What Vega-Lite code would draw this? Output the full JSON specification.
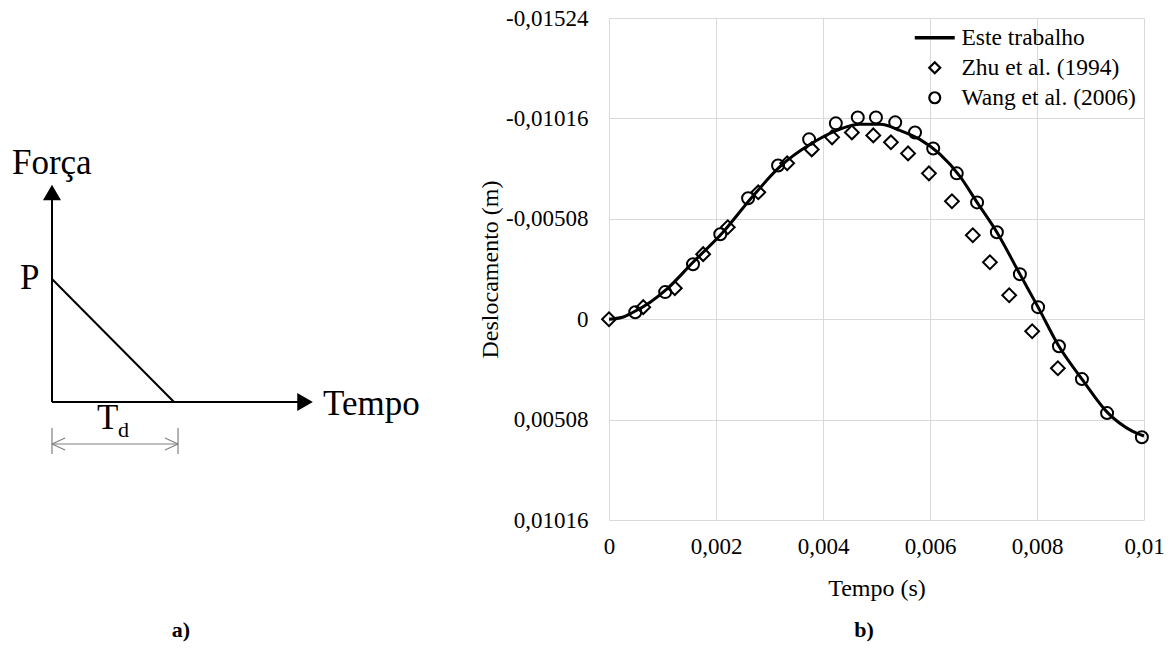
{
  "$schema": "https://vega.github.io/schema/vega-lite/v6.json",
  "background": "white",
  "padding": {"left": 0, "top": 7, "right": 0, "bottom": 0},
  "bounds": "flush",
  "spacing": 169,
  "resolve": {"scale": {"shape": "independent"}, "legend": {"shape": "independent"}},
  "config": {
    "view": {"stroke": null},
    "font": "Liberation Serif, Times New Roman, DejaVu Serif, serif",
    "text": {"font": "Liberation Serif, Times New Roman, DejaVu Serif, serif"}
  },
  "datasets": {
    "diagramSolid": [
      {"x": 0, "y": 0, "x2": 0, "y2": 1.65},
      {"x": 0, "y": 0, "x2": 2.02, "y2": 0},
      {"x": 0, "y": 1, "x2": 1, "y2": 0}
    ],
    "diagramDim": [
      {"x": 0, "y": -0.341, "x2": 1.033, "y2": -0.341},
      {"x": 0, "y": -0.211, "x2": 0, "y2": -0.423},
      {"x": 1.033, "y": -0.211, "x2": 1.033, "y2": -0.423},
      {"x": 0, "y": -0.341, "x2": 0.107, "y2": -0.292},
      {"x": 0, "y": -0.341, "x2": 0.107, "y2": -0.39},
      {"x": 1.033, "y": -0.341, "x2": 0.926, "y2": -0.292},
      {"x": 1.033, "y": -0.341, "x2": 0.926, "y2": -0.39}
    ],
    "arrowUp": [{"x": 0, "y": 1.703}],
    "arrowRight": [{"x": 2.074, "y": 0}],
    "bigText": [
      {"x": -0.328, "y": 1.854, "label": "Força"},
      {"x": -0.262, "y": 0.919, "label": "P"},
      {"x": 2.221, "y": -0.106, "label": "Tempo"},
      {"x": 0.369, "y": -0.22, "label": "T"}
    ],
    "subText": [
      {"x": 0.541, "y": -0.285, "label": "d"}
    ],
    "panelA": [
      {"x": 1.057, "y": -1.911, "label": "a)"}
    ],
    "trabalho": [
      {"t": 0, "d": 0},
      {"t": 0.00025, "d": -0.0001},
      {"t": 0.00045, "d": -0.00035},
      {"t": 0.00077, "d": -0.00086},
      {"t": 0.00108, "d": -0.00152},
      {"t": 0.00157, "d": -0.00288},
      {"t": 0.00213, "d": -0.0044},
      {"t": 0.00264, "d": -0.00607},
      {"t": 0.0032, "d": -0.00773},
      {"t": 0.00376, "d": -0.00885},
      {"t": 0.00432, "d": -0.00962},
      {"t": 0.00469, "d": -0.00986},
      {"t": 0.00507, "d": -0.00986},
      {"t": 0.00544, "d": -0.00955},
      {"t": 0.00581, "d": -0.0091},
      {"t": 0.00619, "d": -0.00834},
      {"t": 0.00656, "d": -0.00723},
      {"t": 0.00688, "d": -0.00591},
      {"t": 0.00725, "d": -0.0044},
      {"t": 0.00768, "d": -0.00228},
      {"t": 0.00802, "d": -0.00061},
      {"t": 0.00841, "d": 0.00137},
      {"t": 0.00884, "d": 0.00303},
      {"t": 0.00931, "d": 0.0047},
      {"t": 0.00978, "d": 0.00566},
      {"t": 0.01, "d": 0.00591}
    ],
    "zhu": [
      {"t": 0, "d": 0, "serie": "Zhu et al. (1994)"},
      {"t": 0.00064, "d": -0.00061, "serie": "Zhu et al. (1994)"},
      {"t": 0.00123, "d": -0.00157, "serie": "Zhu et al. (1994)"},
      {"t": 0.00176, "d": -0.00329, "serie": "Zhu et al. (1994)"},
      {"t": 0.00222, "d": -0.00465, "serie": "Zhu et al. (1994)"},
      {"t": 0.00279, "d": -0.00642, "serie": "Zhu et al. (1994)"},
      {"t": 0.00333, "d": -0.00789, "serie": "Zhu et al. (1994)"},
      {"t": 0.00379, "d": -0.00859, "serie": "Zhu et al. (1994)"},
      {"t": 0.00417, "d": -0.0092, "serie": "Zhu et al. (1994)"},
      {"t": 0.00454, "d": -0.00945, "serie": "Zhu et al. (1994)"},
      {"t": 0.00494, "d": -0.0093, "serie": "Zhu et al. (1994)"},
      {"t": 0.00527, "d": -0.00895, "serie": "Zhu et al. (1994)"},
      {"t": 0.00559, "d": -0.00839, "serie": "Zhu et al. (1994)"},
      {"t": 0.00598, "d": -0.00738, "serie": "Zhu et al. (1994)"},
      {"t": 0.00641, "d": -0.00597, "serie": "Zhu et al. (1994)"},
      {"t": 0.0068, "d": -0.00425, "serie": "Zhu et al. (1994)"},
      {"t": 0.00712, "d": -0.00288, "serie": "Zhu et al. (1994)"},
      {"t": 0.00748, "d": -0.00121, "serie": "Zhu et al. (1994)"},
      {"t": 0.00791, "d": 0.00061, "serie": "Zhu et al. (1994)"},
      {"t": 0.00839, "d": 0.00248, "serie": "Zhu et al. (1994)"}
    ],
    "wang": [
      {"t": 0.00049, "d": -0.00035, "serie": "Wang et al. (2006)"},
      {"t": 0.00105, "d": -0.00137, "serie": "Wang et al. (2006)"},
      {"t": 0.00157, "d": -0.00278, "serie": "Wang et al. (2006)"},
      {"t": 0.00208, "d": -0.0043, "serie": "Wang et al. (2006)"},
      {"t": 0.0026, "d": -0.00612, "serie": "Wang et al. (2006)"},
      {"t": 0.00316, "d": -0.00778, "serie": "Wang et al. (2006)"},
      {"t": 0.00374, "d": -0.0091, "serie": "Wang et al. (2006)"},
      {"t": 0.00424, "d": -0.00991, "serie": "Wang et al. (2006)"},
      {"t": 0.00465, "d": -0.01021, "serie": "Wang et al. (2006)"},
      {"t": 0.00499, "d": -0.01021, "serie": "Wang et al. (2006)"},
      {"t": 0.00535, "d": -0.00996, "serie": "Wang et al. (2006)"},
      {"t": 0.00572, "d": -0.00945, "serie": "Wang et al. (2006)"},
      {"t": 0.00606, "d": -0.00864, "serie": "Wang et al. (2006)"},
      {"t": 0.0065, "d": -0.00738, "serie": "Wang et al. (2006)"},
      {"t": 0.00688, "d": -0.00591, "serie": "Wang et al. (2006)"},
      {"t": 0.00725, "d": -0.0044, "serie": "Wang et al. (2006)"},
      {"t": 0.00768, "d": -0.00228, "serie": "Wang et al. (2006)"},
      {"t": 0.00802, "d": -0.00061, "serie": "Wang et al. (2006)"},
      {"t": 0.00841, "d": 0.00137, "serie": "Wang et al. (2006)"},
      {"t": 0.00884, "d": 0.00303, "serie": "Wang et al. (2006)"},
      {"t": 0.00931, "d": 0.00475, "serie": "Wang et al. (2006)"},
      {"t": 0.00996, "d": 0.00597, "serie": "Wang et al. (2006)"}
    ],
    "panelB": [
      {"t": 0.004766, "d": 0.016074, "label": "b)"}
    ]
  },
  "hconcat": [
    {
      "width": 440,
      "height": 502,
      "layer": [
        {
          "data": {"name": "diagramSolid"},
          "mark": {"type": "rule", "color": "black", "strokeWidth": 2},
          "encoding": {
            "x": {"field": "x", "type": "quantitative", "scale": {"domain": [-0.426, 3.18], "nice": false, "zero": false}, "axis": null},
            "y": {"field": "y", "type": "quantitative", "scale": {"domain": [-0.959, 3.122], "nice": false, "zero": false}, "axis": null},
            "x2": {"field": "x2"},
            "y2": {"field": "y2"}
          }
        },
        {
          "data": {"name": "diagramDim"},
          "mark": {"type": "rule", "color": "#808080", "strokeWidth": 1.2},
          "encoding": {
            "x": {"field": "x", "type": "quantitative", "scale": {"domain": [-0.426, 3.18], "nice": false, "zero": false}, "axis": null},
            "y": {"field": "y", "type": "quantitative", "scale": {"domain": [-0.959, 3.122], "nice": false, "zero": false}, "axis": null},
            "x2": {"field": "x2"},
            "y2": {"field": "y2"}
          }
        },
        {
          "data": {"name": "arrowUp"},
          "mark": {"type": "point", "filled": true, "color": "black", "size": 324, "opacity": 1, "shape": "triangle-up"},
          "encoding": {
            "x": {"field": "x", "type": "quantitative", "scale": {"domain": [-0.426, 3.18], "nice": false, "zero": false}, "axis": null},
            "y": {"field": "y", "type": "quantitative", "scale": {"domain": [-0.959, 3.122], "nice": false, "zero": false}, "axis": null}
          }
        },
        {
          "data": {"name": "arrowRight"},
          "mark": {"type": "point", "filled": true, "color": "black", "size": 324, "opacity": 1, "shape": "triangle-right"},
          "encoding": {
            "x": {"field": "x", "type": "quantitative", "scale": {"domain": [-0.426, 3.18], "nice": false, "zero": false}, "axis": null},
            "y": {"field": "y", "type": "quantitative", "scale": {"domain": [-0.959, 3.122], "nice": false, "zero": false}, "axis": null}
          }
        },
        {
          "data": {"name": "bigText"},
          "mark": {"type": "text", "fontSize": 35, "align": "left", "baseline": "alphabetic", "color": "black"},
          "encoding": {
            "x": {"field": "x", "type": "quantitative", "scale": {"domain": [-0.426, 3.18], "nice": false, "zero": false}, "axis": null},
            "y": {"field": "y", "type": "quantitative", "scale": {"domain": [-0.959, 3.122], "nice": false, "zero": false}, "axis": null},
            "text": {"field": "label"}
          }
        },
        {
          "data": {"name": "subText"},
          "mark": {"type": "text", "fontSize": 22, "align": "left", "baseline": "alphabetic", "color": "black"},
          "encoding": {
            "x": {"field": "x", "type": "quantitative", "scale": {"domain": [-0.426, 3.18], "nice": false, "zero": false}, "axis": null},
            "y": {"field": "y", "type": "quantitative", "scale": {"domain": [-0.959, 3.122], "nice": false, "zero": false}, "axis": null},
            "text": {"field": "label"}
          }
        },
        {
          "data": {"name": "panelA"},
          "mark": {"type": "text", "fontSize": 22, "fontWeight": "bold", "align": "center", "baseline": "alphabetic", "color": "black"},
          "encoding": {
            "x": {"field": "x", "type": "quantitative", "scale": {"domain": [-0.426, 3.18], "nice": false, "zero": false}, "axis": null},
            "y": {"field": "y", "type": "quantitative", "scale": {"domain": [-0.959, 3.122], "nice": false, "zero": false}, "axis": null},
            "text": {"field": "label"}
          }
        }
      ]
    },
    {
      "width": 535,
      "height": 502,
      "encoding": {
        "x": {
          "field": "t", "type": "quantitative",
          "scale": {"domain": [0, 0.01], "nice": false, "zero": false},
          "axis": {
            "title": "Tempo (s)",
            "values": [0, 0.002, 0.004, 0.006, 0.008, 0.01],
            "labelExpr": "datum.value == 0 ? '0' : replace('' + datum.value, '.', ',')",
            "grid": true, "gridColor": "#d9d9d9", "gridWidth": 1,
            "ticks": false, "domain": false,
            "labelFontSize": 23, "labelColor": "black",
            "labelPadding": 15, "labelFlush": false, "labelOverlap": false,
            "titleFontSize": 24, "titleFontWeight": "normal", "titleColor": "black",
            "titlePadding": 18
          }
        },
        "y": {
          "field": "d", "type": "quantitative",
          "scale": {"domain": [-0.01524, 0.01016], "reverse": true, "nice": false, "zero": false},
          "axis": {
            "title": "Deslocamento (m)",
            "values": [-0.01524, -0.01016, -0.00508, 0, 0.00508, 0.01016],
            "labelExpr": "datum.value == 0 ? '0' : replace('' + datum.value, '.', ',')",
            "grid": true, "gridColor": "#d9d9d9", "gridWidth": 1,
            "ticks": false, "domain": false,
            "labelFontSize": 23, "labelColor": "black",
            "labelPadding": 21, "labelFlush": false, "labelOverlap": false,
            "titleFontSize": 24, "titleFontWeight": "normal", "titleColor": "black",
            "titlePadding": 3
          }
        }
      },
      "layer": [
        {
          "data": {"name": "trabalho"},
          "mark": {"type": "line", "color": "black", "strokeWidth": 3, "interpolate": "monotone"},
          "encoding": {}
        },
        {
          "data": {"name": "zhu"},
          "mark": {"type": "point", "filled": false, "color": "black", "strokeWidth": 2, "size": 190, "opacity": 1},
          "encoding": {
            "shape": {
              "field": "serie", "type": "nominal",
              "scale": {"domain": ["Este trabalho", "Zhu et al. (1994)", "Wang et al. (2006)"], "range": ["M-3.65,-0.1H3.65M-3.65,0.1H3.65", "diamond", "circle"]},
              "legend": {
                "title": null, "orient": "top-right", "offset": 8, "padding": 0,
                "labelFontSize": 23.5, "labelColor": "black", "labelLimit": 400,
                "symbolSize": 120, "labelOffset": 15, "rowPadding": 5,
                "symbolStrokeColor": "black", "symbolStrokeWidth": 2.2, "symbolFillColor": "transparent"
              }
            }
          }
        },
        {
          "data": {"name": "wang"},
          "mark": {"type": "point", "filled": false, "color": "black", "strokeWidth": 2, "size": 144, "opacity": 1},
          "encoding": {
            "shape": {
              "field": "serie", "type": "nominal",
              "scale": {"domain": ["Este trabalho", "Zhu et al. (1994)", "Wang et al. (2006)"], "range": ["M-3.65,-0.1H3.65M-3.65,0.1H3.65", "diamond", "circle"]}
            }
          }
        },
        {
          "data": {"name": "panelB"},
          "mark": {"type": "text", "fontSize": 22, "fontWeight": "bold", "align": "center", "baseline": "alphabetic", "color": "black"},
          "encoding": {"text": {"field": "label"}}
        }
      ]
    }
  ]
}
